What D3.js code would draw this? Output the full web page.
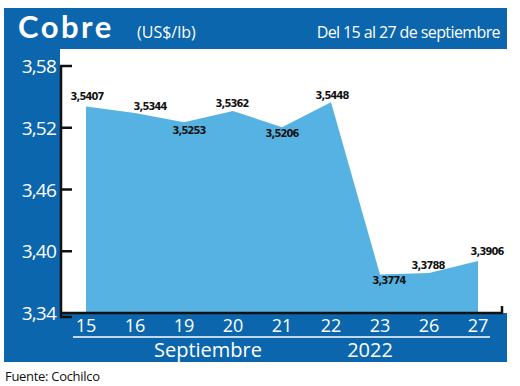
<!DOCTYPE html>
<html>
<head>
<meta charset="utf-8">
<script src="https://cdn.jsdelivr.net/npm/d3@7"></script>
<style>
  body { margin: 0; background: #fff; }
  svg { display: block; }
</style>
</head>
<body>
<div id="chart"></div>
<script>
// data (US$/lb, Cochilco)
var days = ["15", "16", "19", "20", "21", "22", "23", "26", "27"];
var prices = [3.5407, 3.5344, 3.5253, 3.5362, 3.5206, 3.5448, 3.3774, 3.3788, 3.3906];
var yTicks = [3.34, 3.40, 3.46, 3.52, 3.58];
var monthLabel = "Septiembre";
var yearLabel = "2022";

// value label nudges (px) so they sit like in the print version
var labelDx = [1, 15, 5, -1, 0, 1, 9, -1, 9];
var labelDy = [-6, -3, 12, -4, 10, -3, 9, -4, -6];

var W = 520, H = 386;
var blue = "#0b66ad", area = "#56b2e2";
var fmt = function (v) { return d3.format(".4f")(v).replace(".", ","); };
var fmt2 = function (v) { return d3.format(".2f")(v).replace(".", ","); };

var svg = d3.select("#chart").append("svg").attr("width", W).attr("height", H);

// frame: blue box with white plot window
var frame = { left: 4, right: 507, top: 8, bottom: 362 },
    plot = { left: 60, top: 49, bottom: 313 };

svg.append("rect")
    .attr("x", frame.left).attr("y", frame.top)
    .attr("width", frame.right - frame.left).attr("height", frame.bottom - frame.top)
    .attr("fill", blue);
svg.append("rect")
    .attr("x", plot.left).attr("y", plot.top)
    .attr("width", W - plot.left).attr("height", plot.bottom - plot.top)
    .attr("fill", "#fff");

var x = d3.scalePoint().domain(days).range([86, 478]);
var y = d3.scaleLinear().domain([3.34, 3.58]).range([plot.bottom, 66]);

var areaGen = d3.area()
    .x(function (d, i) { return x(days[i]); })
    .y0(y(3.34))
    .y1(function (d) { return y(d); });

svg.append("path")
    .datum(prices)
    .attr("d", areaGen)
    .attr("fill", area);

// axes lines
var ax = svg.append("g").attr("stroke", "#111").attr("stroke-width", 2.5).attr("fill", "none");
ax.append("line").attr("x1", 61).attr("x2", 61).attr("y1", y(3.58)).attr("y2", y(3.34) + 4);
ax.selectAll("line.tick")
    .data(yTicks)
    .enter().append("line")
    .attr("class", "tick")
    .attr("x1", 60).attr("x2", 72)
    .attr("y1", function (d) { return y(d) + (d === 3.34 ? 4 : 0); })
    .attr("y2", function (d) { return y(d) + (d === 3.34 ? 4 : 0); });
ax.append("polyline")
    .attr("points", [[61, plot.bottom], [502, plot.bottom], [502, plot.bottom - 7]].join(" "));

// y tick labels
svg.append("g").selectAll("text")
    .data(yTicks)
    .enter().append("text")
    .attr("x", 56)
    .attr("y", function (d) { return y(d) + 7; })
    .attr("text-anchor", "end")
    .attr("fill", "#fff")
    .attr("font-family", "'Open Sans', sans-serif")
    .attr("font-size", "19px")
    .attr("letter-spacing", "-0.8")
    .text(fmt2);

// x tick labels
svg.append("g").selectAll("text")
    .data(days)
    .enter().append("text")
    .attr("x", function (d) { return x(d); })
    .attr("y", 332)
    .attr("text-anchor", "middle")
    .attr("fill", "#fff")
    .attr("font-family", "'Open Sans', sans-serif")
    .attr("font-size", "18px")
    .text(function (d) { return d; });

svg.append("line")
    .attr("x1", 73).attr("x2", 490).attr("y1", 337).attr("y2", 337)
    .attr("stroke", "#fff").attr("stroke-width", 1.5);

svg.append("text")
    .attr("x", 208).attr("y", 357)
    .attr("text-anchor", "middle").attr("fill", "#fff")
    .attr("font-family", "'Open Sans', sans-serif").attr("font-size", "20px")
    .text(monthLabel);
svg.append("text")
    .attr("x", 370).attr("y", 357)
    .attr("text-anchor", "middle").attr("fill", "#fff")
    .attr("font-family", "'Open Sans', sans-serif").attr("font-size", "20px")
    .text(yearLabel);

// value labels
svg.append("g").selectAll("text")
    .data(prices)
    .enter().append("text")
    .attr("x", function (d, i) { return x(days[i]) + labelDx[i]; })
    .attr("y", function (d, i) { return y(d) + labelDy[i]; })
    .attr("text-anchor", "middle")
    .attr("fill", "#111")
    .attr("font-family", "'DejaVu Sans Condensed', 'DejaVu Sans', sans-serif")
    .attr("font-stretch", "condensed")
    .attr("font-weight", 600)
    .attr("font-size", "11px")
    .attr("letter-spacing", "-0.9")
    .text(fmt);

// header
svg.append("text")
    .attr("x", 18).attr("y", 38)
    .attr("fill", "#fff")
    .attr("font-family", "Lato, sans-serif").attr("font-weight", 700)
    .attr("font-size", "31px").attr("letter-spacing", "2.5")
    .text("Cobre");
svg.append("text")
    .attr("x", 137).attr("y", 38)
    .attr("fill", "#fff")
    .attr("font-family", "'Open Sans', sans-serif")
    .attr("font-size", "16px")
    .text("(US$/lb)");
svg.append("text")
    .attr("x", 500).attr("y", 38)
    .attr("text-anchor", "end")
    .attr("fill", "#fff")
    .attr("font-family", "'Open Sans', sans-serif")
    .attr("font-size", "16px")
    .attr("letter-spacing", "-0.6")
    .text("Del 15 al 27 de septiembre");

svg.append("text")
    .attr("x", 5).attr("y", 381)
    .attr("fill", "#111")
    .attr("font-family", "'Open Sans', sans-serif")
    .attr("font-size", "13px")
    .attr("letter-spacing", "-0.3")
    .text("Fuente: Cochilco");
</script>
</body>
</html>
